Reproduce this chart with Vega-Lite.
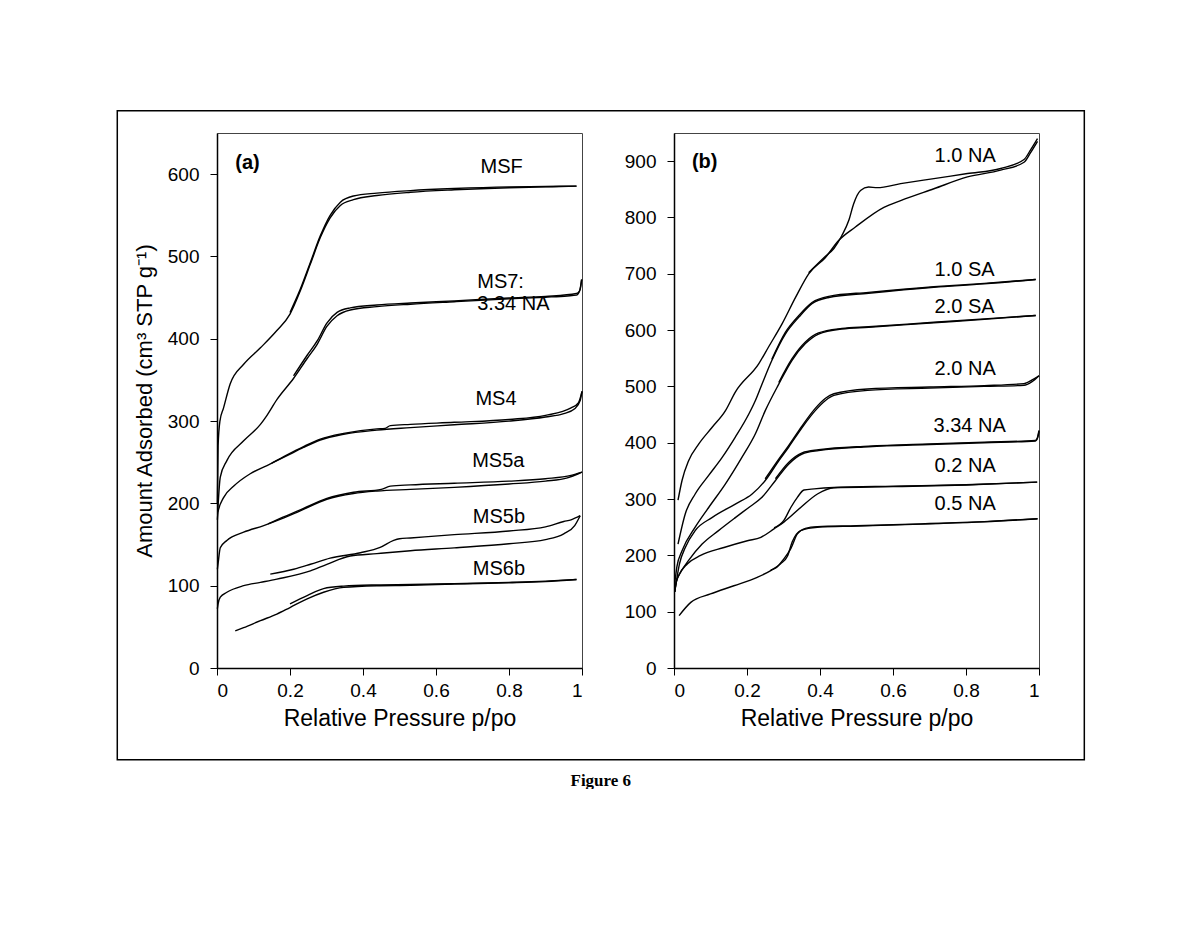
{
"$schema": "https://vega.github.io/schema/vega-lite/v6.json",
"padding": {"left": 116, "top": 109, "right": 0, "bottom": 0},
"background": "white",
"bounds": "flush",
"spacing": 92,
"config": {
  "font": "Liberation Sans",
  "view": {"stroke": "#444", "strokeWidth": 1},
  "axis": {"grid": false, "domainColor": "black", "domainWidth": 1.5, "tickColor": "black", "tickWidth": 1, "tickSize": 7,
    "labelFont": "Liberation Sans", "labelFontSize": 19, "labelColor": "black",
    "titleFont": "Liberation Sans", "titleFontSize": 22, "titleFontWeight": "normal", "titleColor": "black"}
},
"title": {"text": "Figure 6", "orient": "bottom", "anchor": "middle", "font": "Liberation Serif", "fontSize": 17, "fontWeight": "bold", "offset": 12, "color": "black"},
"datasets": {
"curves": [
{"p":"a","s":"MSF","b":"ads","x":0.001,"y":200},{"p":"a","s":"MSF","b":"ads","x":0.003,"y":270},{"p":"a","s":"MSF","b":"ads","x":0.008,"y":300},{"p":"a","s":"MSF","b":"ads","x":0.018,"y":316},{"p":"a","s":"MSF","b":"ads","x":0.036,"y":345},{"p":"a","s":"MSF","b":"ads","x":0.073,"y":369},{"p":"a","s":"MSF","b":"ads","x":0.119,"y":389},{"p":"a","s":"MSF","b":"ads","x":0.164,"y":410},{"p":"a","s":"MSF","b":"ads","x":0.2,"y":430},{"p":"a","s":"MSF","b":"ads","x":0.228,"y":458},{"p":"a","s":"MSF","b":"ads","x":0.256,"y":491},{"p":"a","s":"MSF","b":"ads","x":0.283,"y":523},{"p":"a","s":"MSF","b":"ads","x":0.31,"y":547},{"p":"a","s":"MSF","b":"ads","x":0.338,"y":562},{"p":"a","s":"MSF","b":"ads","x":0.374,"y":569},{"p":"a","s":"MSF","b":"ads","x":0.438,"y":574},{"p":"a","s":"MSF","b":"ads","x":0.53,"y":578},{"p":"a","s":"MSF","b":"ads","x":0.65,"y":581},{"p":"a","s":"MSF","b":"ads","x":0.8,"y":583.5},{"p":"a","s":"MSF","b":"ads","x":0.9,"y":584.5},{"p":"a","s":"MSF","b":"ads","x":0.985,"y":585.5},
{"p":"a","s":"MSF","b":"des","x":0.985,"y":585.5},{"p":"a","s":"MSF","b":"des","x":0.9,"y":585},{"p":"a","s":"MSF","b":"des","x":0.8,"y":584.5},{"p":"a","s":"MSF","b":"des","x":0.65,"y":582.5},{"p":"a","s":"MSF","b":"des","x":0.53,"y":580},{"p":"a","s":"MSF","b":"des","x":0.438,"y":577},{"p":"a","s":"MSF","b":"des","x":0.374,"y":573.5},{"p":"a","s":"MSF","b":"des","x":0.338,"y":566},{"p":"a","s":"MSF","b":"des","x":0.31,"y":550},{"p":"a","s":"MSF","b":"des","x":0.283,"y":525},{"p":"a","s":"MSF","b":"des","x":0.256,"y":493},{"p":"a","s":"MSF","b":"des","x":0.228,"y":460},{"p":"a","s":"MSF","b":"des","x":0.2,"y":432},
{"p":"a","s":"MS7","b":"ads","x":0.002,"y":190},{"p":"a","s":"MS7","b":"ads","x":0.009,"y":232},{"p":"a","s":"MS7","b":"ads","x":0.027,"y":252},{"p":"a","s":"MS7","b":"ads","x":0.073,"y":276},{"p":"a","s":"MS7","b":"ads","x":0.119,"y":296},{"p":"a","s":"MS7","b":"ads","x":0.137,"y":307},{"p":"a","s":"MS7","b":"ads","x":0.164,"y":326},{"p":"a","s":"MS7","b":"ads","x":0.21,"y":352},{"p":"a","s":"MS7","b":"ads","x":0.247,"y":376},{"p":"a","s":"MS7","b":"ads","x":0.274,"y":393},{"p":"a","s":"MS7","b":"ads","x":0.301,"y":415},{"p":"a","s":"MS7","b":"ads","x":0.329,"y":428},{"p":"a","s":"MS7","b":"ads","x":0.365,"y":435},{"p":"a","s":"MS7","b":"ads","x":0.438,"y":439},{"p":"a","s":"MS7","b":"ads","x":0.53,"y":442},{"p":"a","s":"MS7","b":"ads","x":0.65,"y":445},{"p":"a","s":"MS7","b":"ads","x":0.8,"y":448.5},{"p":"a","s":"MS7","b":"ads","x":0.9,"y":450.5},{"p":"a","s":"MS7","b":"ads","x":0.96,"y":452},{"p":"a","s":"MS7","b":"ads","x":0.985,"y":453},{"p":"a","s":"MS7","b":"ads","x":0.995,"y":460},{"p":"a","s":"MS7","b":"ads","x":0.999,"y":472},
{"p":"a","s":"MS7","b":"des","x":0.999,"y":472},{"p":"a","s":"MS7","b":"des","x":0.993,"y":458},{"p":"a","s":"MS7","b":"des","x":0.985,"y":455},{"p":"a","s":"MS7","b":"des","x":0.9,"y":451.5},{"p":"a","s":"MS7","b":"des","x":0.8,"y":449.5},{"p":"a","s":"MS7","b":"des","x":0.65,"y":446},{"p":"a","s":"MS7","b":"des","x":0.53,"y":443.5},{"p":"a","s":"MS7","b":"des","x":0.438,"y":441},{"p":"a","s":"MS7","b":"des","x":0.365,"y":437.5},{"p":"a","s":"MS7","b":"des","x":0.329,"y":432},{"p":"a","s":"MS7","b":"des","x":0.301,"y":419},{"p":"a","s":"MS7","b":"des","x":0.274,"y":397},{"p":"a","s":"MS7","b":"des","x":0.247,"y":380},{"p":"a","s":"MS7","b":"des","x":0.21,"y":355},
{"p":"a","s":"MS4","b":"ads","x":0.001,"y":180},{"p":"a","s":"MS4","b":"ads","x":0.003,"y":190},{"p":"a","s":"MS4","b":"ads","x":0.018,"y":207},{"p":"a","s":"MS4","b":"ads","x":0.046,"y":221},{"p":"a","s":"MS4","b":"ads","x":0.091,"y":236},{"p":"a","s":"MS4","b":"ads","x":0.137,"y":246},{"p":"a","s":"MS4","b":"ads","x":0.192,"y":258},{"p":"a","s":"MS4","b":"ads","x":0.237,"y":268},{"p":"a","s":"MS4","b":"ads","x":0.283,"y":277},{"p":"a","s":"MS4","b":"ads","x":0.347,"y":284},{"p":"a","s":"MS4","b":"ads","x":0.438,"y":289},{"p":"a","s":"MS4","b":"ads","x":0.53,"y":292},{"p":"a","s":"MS4","b":"ads","x":0.65,"y":295.5},{"p":"a","s":"MS4","b":"ads","x":0.8,"y":300},{"p":"a","s":"MS4","b":"ads","x":0.9,"y":305},{"p":"a","s":"MS4","b":"ads","x":0.95,"y":309},{"p":"a","s":"MS4","b":"ads","x":0.98,"y":315},{"p":"a","s":"MS4","b":"ads","x":0.995,"y":325},{"p":"a","s":"MS4","b":"ads","x":1.0,"y":336},
{"p":"a","s":"MS4","b":"des","x":1.0,"y":336},{"p":"a","s":"MS4","b":"des","x":0.99,"y":322},{"p":"a","s":"MS4","b":"des","x":0.97,"y":316},{"p":"a","s":"MS4","b":"des","x":0.9,"y":307},{"p":"a","s":"MS4","b":"des","x":0.8,"y":302},{"p":"a","s":"MS4","b":"des","x":0.65,"y":298.5},{"p":"a","s":"MS4","b":"des","x":0.53,"y":296},{"p":"a","s":"MS4","b":"des","x":0.475,"y":294.5},{"p":"a","s":"MS4","b":"des","x":0.46,"y":291},{"p":"a","s":"MS4","b":"des","x":0.438,"y":290.5},{"p":"a","s":"MS4","b":"des","x":0.347,"y":285},{"p":"a","s":"MS4","b":"des","x":0.283,"y":278},{"p":"a","s":"MS4","b":"des","x":0.237,"y":269},{"p":"a","s":"MS4","b":"des","x":0.192,"y":259},{"p":"a","s":"MS4","b":"des","x":0.15,"y":249},
{"p":"a","s":"MS5a","b":"ads","x":0.001,"y":120},{"p":"a","s":"MS5a","b":"ads","x":0.003,"y":127},{"p":"a","s":"MS5a","b":"ads","x":0.009,"y":146},{"p":"a","s":"MS5a","b":"ads","x":0.027,"y":155},{"p":"a","s":"MS5a","b":"ads","x":0.073,"y":165},{"p":"a","s":"MS5a","b":"ads","x":0.128,"y":173},{"p":"a","s":"MS5a","b":"ads","x":0.164,"y":179},{"p":"a","s":"MS5a","b":"ads","x":0.228,"y":191},{"p":"a","s":"MS5a","b":"ads","x":0.301,"y":205},{"p":"a","s":"MS5a","b":"ads","x":0.374,"y":212},{"p":"a","s":"MS5a","b":"ads","x":0.438,"y":215},{"p":"a","s":"MS5a","b":"ads","x":0.53,"y":217},{"p":"a","s":"MS5a","b":"ads","x":0.65,"y":219.5},{"p":"a","s":"MS5a","b":"ads","x":0.8,"y":223.5},{"p":"a","s":"MS5a","b":"ads","x":0.9,"y":227},{"p":"a","s":"MS5a","b":"ads","x":0.96,"y":231},{"p":"a","s":"MS5a","b":"ads","x":0.99,"y":236},{"p":"a","s":"MS5a","b":"ads","x":1.0,"y":238},
{"p":"a","s":"MS5a","b":"des","x":1.0,"y":238},{"p":"a","s":"MS5a","b":"des","x":0.97,"y":234},{"p":"a","s":"MS5a","b":"des","x":0.9,"y":230},{"p":"a","s":"MS5a","b":"des","x":0.8,"y":227},{"p":"a","s":"MS5a","b":"des","x":0.65,"y":224.5},{"p":"a","s":"MS5a","b":"des","x":0.53,"y":222.5},{"p":"a","s":"MS5a","b":"des","x":0.475,"y":221},{"p":"a","s":"MS5a","b":"des","x":0.45,"y":217},{"p":"a","s":"MS5a","b":"des","x":0.374,"y":213.5},{"p":"a","s":"MS5a","b":"des","x":0.301,"y":206},{"p":"a","s":"MS5a","b":"des","x":0.228,"y":192},{"p":"a","s":"MS5a","b":"des","x":0.164,"y":180},{"p":"a","s":"MS5a","b":"des","x":0.14,"y":175},
{"p":"a","s":"MS5b","b":"ads","x":0.001,"y":72},{"p":"a","s":"MS5b","b":"ads","x":0.003,"y":78},{"p":"a","s":"MS5b","b":"ads","x":0.009,"y":86},{"p":"a","s":"MS5b","b":"ads","x":0.027,"y":92},{"p":"a","s":"MS5b","b":"ads","x":0.073,"y":100},{"p":"a","s":"MS5b","b":"ads","x":0.119,"y":104},{"p":"a","s":"MS5b","b":"ads","x":0.164,"y":108},{"p":"a","s":"MS5b","b":"ads","x":0.256,"y":118},{"p":"a","s":"MS5b","b":"ads","x":0.301,"y":126},{"p":"a","s":"MS5b","b":"ads","x":0.365,"y":136},{"p":"a","s":"MS5b","b":"ads","x":0.438,"y":139},{"p":"a","s":"MS5b","b":"ads","x":0.53,"y":142.5},{"p":"a","s":"MS5b","b":"ads","x":0.65,"y":146},{"p":"a","s":"MS5b","b":"ads","x":0.8,"y":151},{"p":"a","s":"MS5b","b":"ads","x":0.9,"y":156},{"p":"a","s":"MS5b","b":"ads","x":0.95,"y":163},{"p":"a","s":"MS5b","b":"ads","x":0.98,"y":173},{"p":"a","s":"MS5b","b":"ads","x":0.995,"y":185},
{"p":"a","s":"MS5b","b":"des","x":0.995,"y":185},{"p":"a","s":"MS5b","b":"des","x":0.97,"y":180},{"p":"a","s":"MS5b","b":"des","x":0.95,"y":178},{"p":"a","s":"MS5b","b":"des","x":0.9,"y":171.5},{"p":"a","s":"MS5b","b":"des","x":0.8,"y":166.5},{"p":"a","s":"MS5b","b":"des","x":0.65,"y":162},{"p":"a","s":"MS5b","b":"des","x":0.53,"y":158},{"p":"a","s":"MS5b","b":"des","x":0.5,"y":157},{"p":"a","s":"MS5b","b":"des","x":0.484,"y":155},{"p":"a","s":"MS5b","b":"des","x":0.447,"y":146.5},{"p":"a","s":"MS5b","b":"des","x":0.393,"y":140},{"p":"a","s":"MS5b","b":"des","x":0.31,"y":133.5},{"p":"a","s":"MS5b","b":"des","x":0.256,"y":126},{"p":"a","s":"MS5b","b":"des","x":0.21,"y":120},{"p":"a","s":"MS5b","b":"des","x":0.146,"y":114},
{"p":"a","s":"MS6b","b":"ads","x":0.05,"y":45},{"p":"a","s":"MS6b","b":"ads","x":0.073,"y":49},{"p":"a","s":"MS6b","b":"ads","x":0.119,"y":57.5},{"p":"a","s":"MS6b","b":"ads","x":0.164,"y":65.5},{"p":"a","s":"MS6b","b":"ads","x":0.2,"y":73.5},{"p":"a","s":"MS6b","b":"ads","x":0.247,"y":84},{"p":"a","s":"MS6b","b":"ads","x":0.292,"y":92},{"p":"a","s":"MS6b","b":"ads","x":0.347,"y":98},{"p":"a","s":"MS6b","b":"ads","x":0.438,"y":100},{"p":"a","s":"MS6b","b":"ads","x":0.53,"y":100.5},{"p":"a","s":"MS6b","b":"ads","x":0.65,"y":102},{"p":"a","s":"MS6b","b":"ads","x":0.8,"y":103.5},{"p":"a","s":"MS6b","b":"ads","x":0.9,"y":105},{"p":"a","s":"MS6b","b":"ads","x":0.985,"y":107.5},
{"p":"a","s":"MS6b","b":"des","x":0.985,"y":107.5},{"p":"a","s":"MS6b","b":"des","x":0.9,"y":105.5},{"p":"a","s":"MS6b","b":"des","x":0.8,"y":104},{"p":"a","s":"MS6b","b":"des","x":0.65,"y":102.5},{"p":"a","s":"MS6b","b":"des","x":0.53,"y":101.5},{"p":"a","s":"MS6b","b":"des","x":0.438,"y":101},{"p":"a","s":"MS6b","b":"des","x":0.347,"y":99.5},{"p":"a","s":"MS6b","b":"des","x":0.292,"y":96.5},{"p":"a","s":"MS6b","b":"des","x":0.247,"y":88},{"p":"a","s":"MS6b","b":"des","x":0.2,"y":78},
{"p":"b","s":"1.0 NA","b":"ads","x":0.011,"y":298},{"p":"b","s":"1.0 NA","b":"ads","x":0.022,"y":333},{"p":"b","s":"1.0 NA","b":"ads","x":0.04,"y":368},{"p":"b","s":"1.0 NA","b":"ads","x":0.068,"y":398},{"p":"b","s":"1.0 NA","b":"ads","x":0.104,"y":427},{"p":"b","s":"1.0 NA","b":"ads","x":0.141,"y":457},{"p":"b","s":"1.0 NA","b":"ads","x":0.168,"y":490},{"p":"b","s":"1.0 NA","b":"ads","x":0.232,"y":540},{"p":"b","s":"1.0 NA","b":"ads","x":0.259,"y":570},{"p":"b","s":"1.0 NA","b":"ads","x":0.296,"y":611},{"p":"b","s":"1.0 NA","b":"ads","x":0.333,"y":658},{"p":"b","s":"1.0 NA","b":"ads","x":0.369,"y":700},{"p":"b","s":"1.0 NA","b":"ads","x":0.415,"y":729},{"p":"b","s":"1.0 NA","b":"ads","x":0.451,"y":759},{"p":"b","s":"1.0 NA","b":"ads","x":0.497,"y":783},{"p":"b","s":"1.0 NA","b":"ads","x":0.575,"y":818},{"p":"b","s":"1.0 NA","b":"ads","x":0.621,"y":830},{"p":"b","s":"1.0 NA","b":"ads","x":0.712,"y":851},{"p":"b","s":"1.0 NA","b":"ads","x":0.804,"y":872},{"p":"b","s":"1.0 NA","b":"ads","x":0.895,"y":884},{"p":"b","s":"1.0 NA","b":"ads","x":0.959,"y":898},{"p":"b","s":"1.0 NA","b":"ads","x":0.977,"y":915},{"p":"b","s":"1.0 NA","b":"ads","x":0.996,"y":935},
{"p":"b","s":"1.0 NA","b":"des","x":0.996,"y":940},{"p":"b","s":"1.0 NA","b":"des","x":0.977,"y":920},{"p":"b","s":"1.0 NA","b":"des","x":0.959,"y":903},{"p":"b","s":"1.0 NA","b":"des","x":0.895,"y":887},{"p":"b","s":"1.0 NA","b":"des","x":0.804,"y":878},{"p":"b","s":"1.0 NA","b":"des","x":0.712,"y":869},{"p":"b","s":"1.0 NA","b":"des","x":0.621,"y":860},{"p":"b","s":"1.0 NA","b":"des","x":0.557,"y":853},{"p":"b","s":"1.0 NA","b":"des","x":0.533,"y":854},{"p":"b","s":"1.0 NA","b":"des","x":0.511,"y":848},{"p":"b","s":"1.0 NA","b":"des","x":0.492,"y":824},{"p":"b","s":"1.0 NA","b":"des","x":0.479,"y":795},{"p":"b","s":"1.0 NA","b":"des","x":0.46,"y":768},{"p":"b","s":"1.0 NA","b":"des","x":0.438,"y":745},{"p":"b","s":"1.0 NA","b":"des","x":0.415,"y":731},{"p":"b","s":"1.0 NA","b":"des","x":0.369,"y":702},
{"p":"b","s":"1.0 SA","b":"ads","x":0.011,"y":220},{"p":"b","s":"1.0 SA","b":"ads","x":0.031,"y":274},{"p":"b","s":"1.0 SA","b":"ads","x":0.058,"y":309},{"p":"b","s":"1.0 SA","b":"ads","x":0.095,"y":342},{"p":"b","s":"1.0 SA","b":"ads","x":0.132,"y":374},{"p":"b","s":"1.0 SA","b":"ads","x":0.168,"y":410},{"p":"b","s":"1.0 SA","b":"ads","x":0.205,"y":451},{"p":"b","s":"1.0 SA","b":"ads","x":0.223,"y":475},{"p":"b","s":"1.0 SA","b":"ads","x":0.241,"y":504},{"p":"b","s":"1.0 SA","b":"ads","x":0.268,"y":546},{"p":"b","s":"1.0 SA","b":"ads","x":0.305,"y":593},{"p":"b","s":"1.0 SA","b":"ads","x":0.342,"y":623},{"p":"b","s":"1.0 SA","b":"ads","x":0.378,"y":647},{"p":"b","s":"1.0 SA","b":"ads","x":0.424,"y":658},{"p":"b","s":"1.0 SA","b":"ads","x":0.533,"y":665.5},{"p":"b","s":"1.0 SA","b":"ads","x":0.712,"y":676},{"p":"b","s":"1.0 SA","b":"ads","x":0.85,"y":682},{"p":"b","s":"1.0 SA","b":"ads","x":0.991,"y":690},
{"p":"b","s":"1.0 SA","b":"des","x":0.991,"y":690},{"p":"b","s":"1.0 SA","b":"des","x":0.85,"y":683},{"p":"b","s":"1.0 SA","b":"des","x":0.712,"y":677},{"p":"b","s":"1.0 SA","b":"des","x":0.533,"y":667},{"p":"b","s":"1.0 SA","b":"des","x":0.424,"y":660},{"p":"b","s":"1.0 SA","b":"des","x":0.378,"y":649},{"p":"b","s":"1.0 SA","b":"des","x":0.342,"y":626},{"p":"b","s":"1.0 SA","b":"des","x":0.305,"y":596},{"p":"b","s":"1.0 SA","b":"des","x":0.268,"y":548},
{"p":"b","s":"2.0 SA","b":"ads","x":0.002,"y":150},{"p":"b","s":"2.0 SA","b":"ads","x":0.008,"y":180},{"p":"b","s":"2.0 SA","b":"ads","x":0.022,"y":208},{"p":"b","s":"2.0 SA","b":"ads","x":0.058,"y":250},{"p":"b","s":"2.0 SA","b":"ads","x":0.095,"y":285},{"p":"b","s":"2.0 SA","b":"ads","x":0.141,"y":327},{"p":"b","s":"2.0 SA","b":"ads","x":0.186,"y":374},{"p":"b","s":"2.0 SA","b":"ads","x":0.223,"y":416},{"p":"b","s":"2.0 SA","b":"ads","x":0.25,"y":457},{"p":"b","s":"2.0 SA","b":"ads","x":0.287,"y":504},{"p":"b","s":"2.0 SA","b":"ads","x":0.323,"y":546},{"p":"b","s":"2.0 SA","b":"ads","x":0.36,"y":576},{"p":"b","s":"2.0 SA","b":"ads","x":0.396,"y":593},{"p":"b","s":"2.0 SA","b":"ads","x":0.46,"y":602},{"p":"b","s":"2.0 SA","b":"ads","x":0.533,"y":605},{"p":"b","s":"2.0 SA","b":"ads","x":0.712,"y":613},{"p":"b","s":"2.0 SA","b":"ads","x":0.85,"y":619},{"p":"b","s":"2.0 SA","b":"ads","x":0.991,"y":626},
{"p":"b","s":"2.0 SA","b":"des","x":0.991,"y":626},{"p":"b","s":"2.0 SA","b":"des","x":0.85,"y":620},{"p":"b","s":"2.0 SA","b":"des","x":0.712,"y":614},{"p":"b","s":"2.0 SA","b":"des","x":0.533,"y":606},{"p":"b","s":"2.0 SA","b":"des","x":0.46,"y":603},{"p":"b","s":"2.0 SA","b":"des","x":0.396,"y":595},{"p":"b","s":"2.0 SA","b":"des","x":0.36,"y":579},{"p":"b","s":"2.0 SA","b":"des","x":0.323,"y":549},{"p":"b","s":"2.0 SA","b":"des","x":0.287,"y":507},
{"p":"b","s":"2.0 NA","b":"ads","x":0.002,"y":135},{"p":"b","s":"2.0 NA","b":"ads","x":0.006,"y":152},{"p":"b","s":"2.0 NA","b":"ads","x":0.015,"y":185},{"p":"b","s":"2.0 NA","b":"ads","x":0.031,"y":214},{"p":"b","s":"2.0 NA","b":"ads","x":0.058,"y":244},{"p":"b","s":"2.0 NA","b":"ads","x":0.104,"y":267},{"p":"b","s":"2.0 NA","b":"ads","x":0.168,"y":291},{"p":"b","s":"2.0 NA","b":"ads","x":0.214,"y":309},{"p":"b","s":"2.0 NA","b":"ads","x":0.25,"y":333},{"p":"b","s":"2.0 NA","b":"ads","x":0.287,"y":368},{"p":"b","s":"2.0 NA","b":"ads","x":0.314,"y":392},{"p":"b","s":"2.0 NA","b":"ads","x":0.351,"y":427},{"p":"b","s":"2.0 NA","b":"ads","x":0.387,"y":457},{"p":"b","s":"2.0 NA","b":"ads","x":0.415,"y":475},{"p":"b","s":"2.0 NA","b":"ads","x":0.438,"y":484},{"p":"b","s":"2.0 NA","b":"ads","x":0.53,"y":493},{"p":"b","s":"2.0 NA","b":"ads","x":0.7,"y":497},{"p":"b","s":"2.0 NA","b":"ads","x":0.85,"y":500},{"p":"b","s":"2.0 NA","b":"ads","x":0.959,"y":502},{"p":"b","s":"2.0 NA","b":"ads","x":0.98,"y":508},{"p":"b","s":"2.0 NA","b":"ads","x":1.0,"y":519},
{"p":"b","s":"2.0 NA","b":"des","x":1.0,"y":519},{"p":"b","s":"2.0 NA","b":"des","x":0.985,"y":513},{"p":"b","s":"2.0 NA","b":"des","x":0.959,"y":505},{"p":"b","s":"2.0 NA","b":"des","x":0.85,"y":501.5},{"p":"b","s":"2.0 NA","b":"des","x":0.7,"y":499},{"p":"b","s":"2.0 NA","b":"des","x":0.53,"y":495.5},{"p":"b","s":"2.0 NA","b":"des","x":0.438,"y":487},{"p":"b","s":"2.0 NA","b":"des","x":0.415,"y":479},{"p":"b","s":"2.0 NA","b":"des","x":0.387,"y":461},{"p":"b","s":"2.0 NA","b":"des","x":0.351,"y":430},{"p":"b","s":"2.0 NA","b":"des","x":0.314,"y":395},{"p":"b","s":"2.0 NA","b":"des","x":0.287,"y":371},{"p":"b","s":"2.0 NA","b":"des","x":0.25,"y":336},
{"p":"b","s":"3.34 NA","b":"ads","x":0.002,"y":135},{"p":"b","s":"3.34 NA","b":"ads","x":0.006,"y":152},{"p":"b","s":"3.34 NA","b":"ads","x":0.02,"y":172},{"p":"b","s":"3.34 NA","b":"ads","x":0.04,"y":191},{"p":"b","s":"3.34 NA","b":"ads","x":0.077,"y":220},{"p":"b","s":"3.34 NA","b":"ads","x":0.122,"y":244},{"p":"b","s":"3.34 NA","b":"ads","x":0.168,"y":267},{"p":"b","s":"3.34 NA","b":"ads","x":0.205,"y":285},{"p":"b","s":"3.34 NA","b":"ads","x":0.241,"y":303},{"p":"b","s":"3.34 NA","b":"ads","x":0.278,"y":333},{"p":"b","s":"3.34 NA","b":"ads","x":0.314,"y":362},{"p":"b","s":"3.34 NA","b":"ads","x":0.351,"y":380},{"p":"b","s":"3.34 NA","b":"ads","x":0.396,"y":386},{"p":"b","s":"3.34 NA","b":"ads","x":0.533,"y":393},{"p":"b","s":"3.34 NA","b":"ads","x":0.7,"y":397},{"p":"b","s":"3.34 NA","b":"ads","x":0.85,"y":400},{"p":"b","s":"3.34 NA","b":"ads","x":0.99,"y":403},{"p":"b","s":"3.34 NA","b":"ads","x":0.997,"y":410},{"p":"b","s":"3.34 NA","b":"ads","x":1.0,"y":420},
{"p":"b","s":"3.34 NA","b":"des","x":1.0,"y":422},{"p":"b","s":"3.34 NA","b":"des","x":0.995,"y":408},{"p":"b","s":"3.34 NA","b":"des","x":0.99,"y":404},{"p":"b","s":"3.34 NA","b":"des","x":0.85,"y":401},{"p":"b","s":"3.34 NA","b":"des","x":0.7,"y":398},{"p":"b","s":"3.34 NA","b":"des","x":0.533,"y":394},{"p":"b","s":"3.34 NA","b":"des","x":0.396,"y":387.5},{"p":"b","s":"3.34 NA","b":"des","x":0.351,"y":382},{"p":"b","s":"3.34 NA","b":"des","x":0.314,"y":365},{"p":"b","s":"3.34 NA","b":"des","x":0.278,"y":336},
{"p":"b","s":"0.2 NA","b":"ads","x":0.002,"y":135},{"p":"b","s":"0.2 NA","b":"ads","x":0.006,"y":152},{"p":"b","s":"0.2 NA","b":"ads","x":0.012,"y":163},{"p":"b","s":"0.2 NA","b":"ads","x":0.037,"y":185},{"p":"b","s":"0.2 NA","b":"ads","x":0.073,"y":200},{"p":"b","s":"0.2 NA","b":"ads","x":0.137,"y":214},{"p":"b","s":"0.2 NA","b":"ads","x":0.201,"y":226},{"p":"b","s":"0.2 NA","b":"ads","x":0.238,"y":232},{"p":"b","s":"0.2 NA","b":"ads","x":0.274,"y":247},{"p":"b","s":"0.2 NA","b":"ads","x":0.301,"y":259},{"p":"b","s":"0.2 NA","b":"ads","x":0.347,"y":285},{"p":"b","s":"0.2 NA","b":"ads","x":0.393,"y":309},{"p":"b","s":"0.2 NA","b":"ads","x":0.438,"y":320},{"p":"b","s":"0.2 NA","b":"ads","x":0.6,"y":322},{"p":"b","s":"0.2 NA","b":"ads","x":0.8,"y":325},{"p":"b","s":"0.2 NA","b":"ads","x":0.995,"y":330},
{"p":"b","s":"0.2 NA","b":"des","x":0.995,"y":330},{"p":"b","s":"0.2 NA","b":"des","x":0.8,"y":325.5},{"p":"b","s":"0.2 NA","b":"des","x":0.6,"y":323},{"p":"b","s":"0.2 NA","b":"des","x":0.438,"y":320.5},{"p":"b","s":"0.2 NA","b":"des","x":0.384,"y":318},{"p":"b","s":"0.2 NA","b":"des","x":0.356,"y":316},{"p":"b","s":"0.2 NA","b":"des","x":0.338,"y":303},{"p":"b","s":"0.2 NA","b":"des","x":0.32,"y":285},{"p":"b","s":"0.2 NA","b":"des","x":0.301,"y":262},{"p":"b","s":"0.2 NA","b":"des","x":0.274,"y":249},
{"p":"b","s":"0.5 NA","b":"ads","x":0.014,"y":93},{"p":"b","s":"0.5 NA","b":"ads","x":0.046,"y":116.5},{"p":"b","s":"0.5 NA","b":"ads","x":0.1,"y":131.5},{"p":"b","s":"0.5 NA","b":"ads","x":0.164,"y":146},{"p":"b","s":"0.5 NA","b":"ads","x":0.228,"y":161},{"p":"b","s":"0.5 NA","b":"ads","x":0.265,"y":173},{"p":"b","s":"0.5 NA","b":"ads","x":0.292,"y":185},{"p":"b","s":"0.5 NA","b":"ads","x":0.311,"y":199},{"p":"b","s":"0.5 NA","b":"ads","x":0.324,"y":224},{"p":"b","s":"0.5 NA","b":"ads","x":0.347,"y":244},{"p":"b","s":"0.5 NA","b":"ads","x":0.393,"y":250},{"p":"b","s":"0.5 NA","b":"ads","x":0.5,"y":252},{"p":"b","s":"0.5 NA","b":"ads","x":0.7,"y":256},{"p":"b","s":"0.5 NA","b":"ads","x":0.85,"y":259.5},{"p":"b","s":"0.5 NA","b":"ads","x":0.996,"y":265},
{"p":"b","s":"0.5 NA","b":"des","x":0.996,"y":265},{"p":"b","s":"0.5 NA","b":"des","x":0.85,"y":260},{"p":"b","s":"0.5 NA","b":"des","x":0.7,"y":256.5},{"p":"b","s":"0.5 NA","b":"des","x":0.5,"y":252.5},{"p":"b","s":"0.5 NA","b":"des","x":0.393,"y":251},{"p":"b","s":"0.5 NA","b":"des","x":0.36,"y":248},{"p":"b","s":"0.5 NA","b":"des","x":0.338,"y":238},{"p":"b","s":"0.5 NA","b":"des","x":0.32,"y":212},{"p":"b","s":"0.5 NA","b":"des","x":0.3,"y":193},{"p":"b","s":"0.5 NA","b":"des","x":0.28,"y":178},{"p":"b","s":"0.5 NA","b":"des","x":0.265,"y":174}
],
"labels": [
{"p":"a","t":"MSF","x":0.722,"y":609},{"p":"a","t":"MS7:","x":0.713,"y":468.5},{"p":"a","t":"3.34 NA","x":0.713,"y":442.5},{"p":"a","t":"MS4","x":0.708,"y":327},{"p":"a","t":"MS5a","x":0.699,"y":251},{"p":"a","t":"MS5b","x":0.701,"y":183},{"p":"a","t":"MS6b","x":0.701,"y":120},
{"p":"b","t":"1.0 NA","x":0.714,"y":910},{"p":"b","t":"1.0 SA","x":0.714,"y":706},{"p":"b","t":"2.0 SA","x":0.714,"y":641},{"p":"b","t":"2.0 NA","x":0.714,"y":531},{"p":"b","t":"3.34 NA","x":0.711,"y":430},{"p":"b","t":"0.2 NA","x":0.714,"y":359},{"p":"b","t":"0.5 NA","x":0.714,"y":291}
],
"tags": [{"p":"a","t":"(a)","x":0.05,"y":614},{"p":"b","t":"(b)","x":0.049,"y":898}]
},
"hconcat": [
{
 "width": 365, "height": 535,
 "layer": [
  {"data": {"values": [{}]},
   "mark": {"type": "rect", "filled": false, "stroke": "black", "strokeWidth": 1.5, "clip": false},
   "encoding": {"x": {"datum": -0.2732, "type": "quantitative"}, "x2": {"datum": 2.3762}, "y": {"datum": 676.9, "type": "quantitative"}, "y2": {"datum": -111.4}}},
  {"data": {"name": "curves"}, "transform": [{"filter": "datum.p == 'a'"}],
   "mark": {"type": "line", "color": "black", "strokeWidth": 1.4, "interpolate": "monotone"},
   "encoding": {
     "x": {"field": "x", "type": "quantitative", "scale": {"domain": [0, 1], "nice": false},
       "axis": {"values": [0,0.1,0.2,0.3,0.4,0.5,0.6,0.7,0.8,0.9,1], "format": ".1~f", "labelExpr": "round(datum.value*10) % 2 == 0 ? datum.label : ''", "title": "Relative Pressure p/po", "titleFontSize": 23, "labelPadding": 6, "titlePadding": 7}},
     "y": {"field": "y", "type": "quantitative", "scale": {"domain": [0, 650], "nice": false},
       "axis": {"values": [0,100,200,300,400,500,600], "title": "Amount Adsorbed (cm³ STP g⁻¹)", "labelPadding": 11, "titlePadding": 11}},
     "detail": [{"field": "s"}, {"field": "b"}]}},
  {"data": {"name": "labels"}, "transform": [{"filter": "datum.p == 'a'"}],
   "mark": {"type": "text", "align": "left", "baseline": "middle", "fontSize": 20, "color": "black", "font": "Liberation Sans"},
   "encoding": {"x": {"field": "x", "type": "quantitative"}, "y": {"field": "y", "type": "quantitative"}, "text": {"field": "t"}}},
  {"data": {"name": "tags"}, "transform": [{"filter": "datum.p == 'a'"}],
   "mark": {"type": "text", "align": "left", "baseline": "middle", "fontSize": 20, "fontWeight": "bold", "color": "black", "font": "Liberation Sans"},
   "encoding": {"x": {"field": "x", "type": "quantitative"}, "y": {"field": "y", "type": "quantitative"}, "text": {"field": "t"}}}
 ]
},
{
 "width": 365, "height": 535,
 "layer": [
  {"data": {"name": "curves"}, "transform": [{"filter": "datum.p == 'b'"}],
   "mark": {"type": "line", "color": "black", "strokeWidth": 1.4, "interpolate": "monotone"},
   "encoding": {
     "x": {"field": "x", "type": "quantitative", "scale": {"domain": [0, 1], "nice": false},
       "axis": {"values": [0,0.1,0.2,0.3,0.4,0.5,0.6,0.7,0.8,0.9,1], "format": ".1~f", "labelExpr": "round(datum.value*10) % 2 == 0 ? datum.label : ''", "title": "Relative Pressure p/po", "titleFontSize": 23, "labelPadding": 6, "titlePadding": 7}},
     "y": {"field": "y", "type": "quantitative", "scale": {"domain": [0, 950], "nice": false},
       "axis": {"values": [0,100,200,300,400,500,600,700,800,900], "title": null, "labelPadding": 11}},
     "detail": [{"field": "s"}, {"field": "b"}]}},
  {"data": {"name": "labels"}, "transform": [{"filter": "datum.p == 'b'"}],
   "mark": {"type": "text", "align": "left", "baseline": "middle", "fontSize": 20, "color": "black", "font": "Liberation Sans"},
   "encoding": {"x": {"field": "x", "type": "quantitative"}, "y": {"field": "y", "type": "quantitative"}, "text": {"field": "t"}}},
  {"data": {"name": "tags"}, "transform": [{"filter": "datum.p == 'b'"}],
   "mark": {"type": "text", "align": "left", "baseline": "middle", "fontSize": 20, "fontWeight": "bold", "color": "black", "font": "Liberation Sans"},
   "encoding": {"x": {"field": "x", "type": "quantitative"}, "y": {"field": "y", "type": "quantitative"}, "text": {"field": "t"}}}
 ]
}
]
}
